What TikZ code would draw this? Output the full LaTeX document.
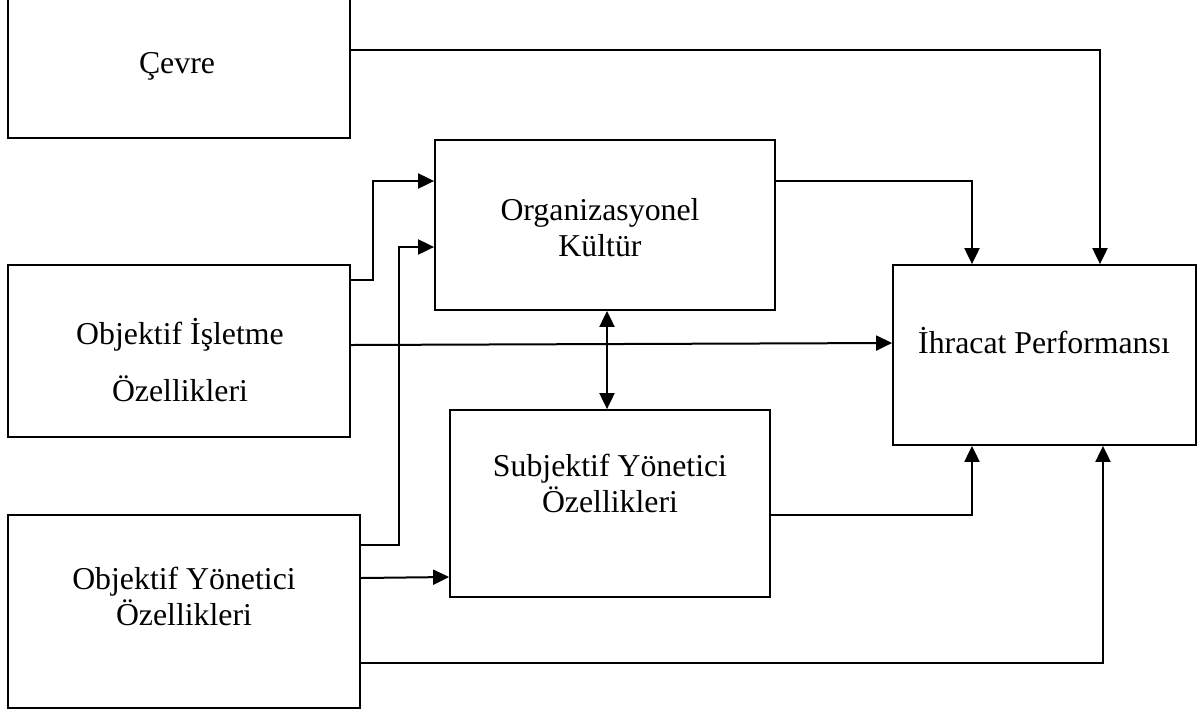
\documentclass[tikz,border=0pt]{standalone}
\usepackage{fontspec}
\setmainfont{Liberation Serif}
\usetikzlibrary{arrows.meta}

\begin{document}
\begin{tikzpicture}[x=0.5pt, y=-0.5pt, >={Triangle[length=8pt, width=7.5pt]},
    box/.style={draw, line width=0.9pt, inner sep=0pt},
    lbl/.style={font=\fontsize{15.9}{18}\selectfont, align=center, inner sep=0pt},
    conn/.style={->, line width=1pt}]
    \useasboundingbox (0,0) rectangle (1201,714);

    % boxes
    \node[box, minimum width=171pt, minimum height=70pt] (cevre) at (179,68) {};
    \node[box, minimum width=170pt, minimum height=85pt] (ok) at (605,225) {};
    \node[box, minimum width=171pt, minimum height=86pt] (ois) at (179,351) {};
    \node[box, minimum width=160pt, minimum height=93.5pt] (sub) at (610,503.5) {};
    \node[box, minimum width=151.5pt, minimum height=90pt] (ihr) at (1044.5,355) {};
    \node[box, minimum width=176pt, minimum height=96.5pt] (oyo) at (184,611.5) {};

    % texts
    \node[lbl] (cevre-t) at (177,66) {Çevre};
    \node[lbl] (ok-t) at (600,228) {Organizasyonel\\Kültür};
    \node[lbl] (ois-t) at (180,360) {Objektif İşletme\\[10.5pt]Özellikleri};
    \node[lbl] (sub-t) at (610,483) {Subjektif Yönetici\\Özellikleri};
    \node[lbl] (ihr-t) at (1044,341) {İhracat Performansı};
    \node[lbl] (oyo-t) at (184,596) {Objektif Yönetici\\Özellikleri};

    % connectors
    \draw[conn] (cevre.east |- 0,50) -| (1100,0 |- ihr.north);
    \draw[conn] (ok.east |- 0,181) -| (972,0 |- ihr.north);
    \draw[conn] (ois.east |- 0,280) -- (373,280) |- (ok.west |- 0,181);
    \draw[conn] (oyo.east |- 0,545) -- (399,545) |- (ok.west |- 0,247);
    \draw[conn] (oyo.east |- 0,578) -- (sub.west |- 0,577);
    \draw[conn] (ois.east |- 0,345) -- (ihr.west |- 0,343);
    \draw[conn] (sub.east |- 0,515) -| (972,0 |- ihr.south);
    \draw[conn] (oyo.east |- 0,663) -| (1103,0 |- ihr.south);
    \draw[conn, <->] (607,0 |- ok.south) -- (607,0 |- sub.north);
\end{tikzpicture}
\end{document}
